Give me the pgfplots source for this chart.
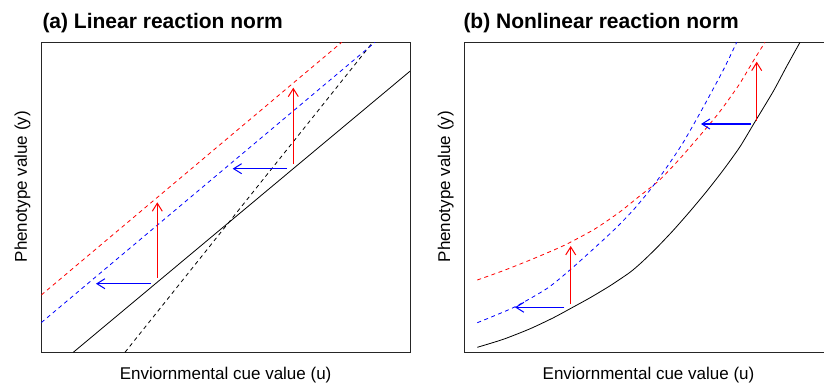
\documentclass[border=0pt]{standalone}
\usepackage{fontspec}
\setmainfont{Liberation Sans}
\usepackage{pgfplots}
\pgfplotsset{compat=1.18}
\usetikzlibrary{arrows.meta}
\begin{document}
\begin{tikzpicture}[x=1pt,y=1pt]
\pgfplotsset{myax/.style={scale only axis, width=368.7pt, height=310pt,
  xmin=0, xmax=368.7, ymin=0, ymax=310, xtick=\empty, ytick=\empty,
  axis line style={line width=0.8pt, black!85}, clip=true, anchor=south west}}
\tikzset{dsh/.style={line width=0.8pt, dash pattern=on 4pt off 3.5pt},
  sol/.style={line width=0.8pt},
  arr/.style={line width=1.2pt, -{Straight Barb[length=8pt,width=10pt,line width=1pt]}}}
% Panel (a)
\begin{axis}[myax, at={(41.3pt,31.7pt)}]
\addplot[black, sol] coordinates {(32,0) (368.7,281.1)};
\addplot[black, dsh] coordinates {(83.7,0) (331.4,310)};
\addplot[red, dsh] coordinates {(0,57.3) (300.4,310)};
\addplot[blue, dsh] coordinates {(0,29.7) (333.7,310)};
\addplot[blue, arr] coordinates {(109.7,68.6) (54.7,68.6)};
\addplot[red, arr] coordinates {(116,74.6) (116,150)};
\addplot[blue, arr] coordinates {(245.4,183.6) (191.4,183.6)};
\addplot[red, arr] coordinates {(252,188.3) (252,264.6)};
\end{axis}
% Panel (b)
\begin{axis}[myax, at={(464.3pt,31.7pt)}]
\addplot[black, sol, smooth, tension=0.4] coordinates {(13,5) (39,13) (65.7,23.5) (89,34.5) (105.7,43.5) (125.7,54.5) (145.7,66.5) (165.7,80) (177.4,90) (192.4,104.5) (209,122) (225.7,141) (242.4,161) (259,182.3) (275.7,205.6) (290.7,230.6) (309,261) (322.4,286) (335.7,310)};
\addplot[red, dsh, smooth, tension=0.4] coordinates {(13,72.3) (40,82) (70,94) (100,107) (130,123) (155,140) (175,156) (195,172) (215,193) (235,216) (255,240) (275,268) (290,293) (300.7,310)};
\addplot[blue, dsh, smooth, tension=0.4] coordinates {(13,29.6) (49.7,45) (83,64) (106.4,83) (136.4,110) (152.4,125) (169,142.3) (185.7,162.3) (202.4,185) (219,210) (237.4,242.3) (259,282.3) (272.4,310)};
\addplot[blue, arr] coordinates {(100,45) (50.7,45)};
\addplot[red, arr] coordinates {(106.4,48.3) (106.4,106.3)};
\addplot[blue, arr] coordinates {(286.7,228.3) (236.7,228.3)};
\addplot[red, arr] coordinates {(292.4,231.6) (292.4,290.6)};
\end{axis}
% Texts
\node[anchor=base west, inner sep=0pt, font=\bfseries\fontsize{21}{25}\selectfont] at (42.3,355.7) {(a) Linear reaction norm};
\node[anchor=base west, inner sep=0pt, font=\bfseries\fontsize{21}{25}\selectfont] at (463.3,355.7) {(b) Nonlinear reaction norm};
\node[anchor=base, inner sep=0pt, font=\fontsize{17}{20}\selectfont] at (225.6,5) {Enviornmental cue value (u)};
\node[anchor=base, inner sep=0pt, font=\fontsize{17}{20}\selectfont] at (648.5,5) {Enviornmental cue value (u)};
\node[anchor=base, inner sep=0pt, rotate=90, font=\fontsize{17}{20}\selectfont] at (27,197.3) {Phenotype value (y)};
\node[anchor=base, inner sep=0pt, rotate=90, font=\fontsize{17}{20}\selectfont] at (450,197.3) {Phenotype value (y)};
\pgfresetboundingbox
\useasboundingbox (0,0) rectangle (824,384);
\end{tikzpicture}
\end{document}
